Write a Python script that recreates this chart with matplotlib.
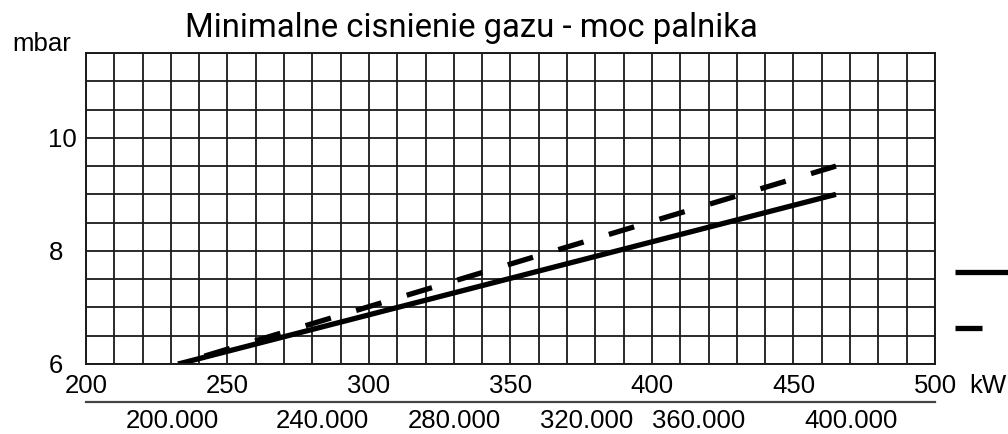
import numpy as np
import matplotlib
matplotlib.use("Agg")
import matplotlib.pyplot as plt
from matplotlib.lines import Line2D

# ---- data ----
title = "Minimalne cisnienie gazu - moc palnika"
power_kw = [232.6, 465.0]          # burner power range (kW)
p_solid = [6.0, 9.0]               # mbar, solid line
p_dashed = [6.0, 9.5]              # mbar, dashed line
x_major = [200, 250, 300, 350, 400, 450, 500]
x_labels = ["200", "250", "300", "350", "400", "450", "500"]
y_major = [6, 8, 10]
y_labels = ["6", "8", "10"]
sec_labels = ["200.000", "240.000", "280.000", "320.000", "360.000", "400.000"]
sec_pos_kw = [230.4, 283.4, 330.0, 377.0, 416.6, 470.3]

plt.rcParams['font.family'] = ['Liberation Sans', 'DejaVu Sans']
FS = 18.5

fig = plt.figure(figsize=(10.08, 4.34), dpi=100)
ax = fig.add_axes([86/1008, (434-364)/434, (935-86)/1008, (364-53)/434])

ax.plot(power_kw, p_solid, color='black', lw=3.8, solid_capstyle='butt')
ax.plot(power_kw, p_dashed, color='black', lw=3.8, linestyle=(4.8, (5, 5)), dash_capstyle='butt')

ax.set_xlim(200, 500)
ax.set_ylim(6, 11.5)
ax.set_xticks(x_major)
ax.set_xticklabels(x_labels, fontsize=FS)
ax.set_yticks(y_major)
ax.set_yticklabels(y_labels, fontsize=FS, ha='left')
ax.set_xticks(np.arange(200, 501, 10), minor=True)
ax.set_yticks(np.arange(6, 11.51, 0.5), minor=True)
ax.grid(True, which='both', color='#1a1a1a', lw=1.3)
ax.tick_params(which='both', length=0)
ax.tick_params(axis='x', pad=7)
ax.tick_params(axis='y', pad=27)
for lbl in ax.get_yticklabels():
    if lbl.get_text() == "6":
        lbl.set_va('center_baseline')
for s in ax.spines.values():
    s.set_color('#1a1a1a')
    s.set_linewidth(1.4)
ax.set_axisbelow(True)

ax.annotate("kW", xy=(500, 6), xycoords='data', xytext=(25, -7),
            textcoords='offset points', fontsize=FS, ha='left', va='top')

# secondary scale
sec = ax.secondary_xaxis(-38/311)
sec.set_xticks(sec_pos_kw)
sec.set_xticklabels(sec_labels, fontsize=FS)
sec.tick_params(length=0, pad=5)
sec.spines['bottom'].set_color('#444444')
sec.spines['bottom'].set_linewidth(1.6)

fig.text(471/1008, 1-28/434, title, fontsize=23.7, ha='center', va='center',
         family=['Roboto', 'DejaVu Sans'])
fig.text(12/1008, 1-44/434, "mbar", fontsize=FS, ha='left', va='center')

# legend marks (text cropped in reference)
fig.add_artist(Line2D([955/1008, 1008/1008], [1-272/434, 1-272/434], color='black', lw=3.8, solid_capstyle='butt'))
fig.add_artist(Line2D([955/1008, 982/1008], [1-328/434, 1-328/434], color='black', lw=3.8, solid_capstyle='butt'))

fig.savefig("out.png", dpi=100)
